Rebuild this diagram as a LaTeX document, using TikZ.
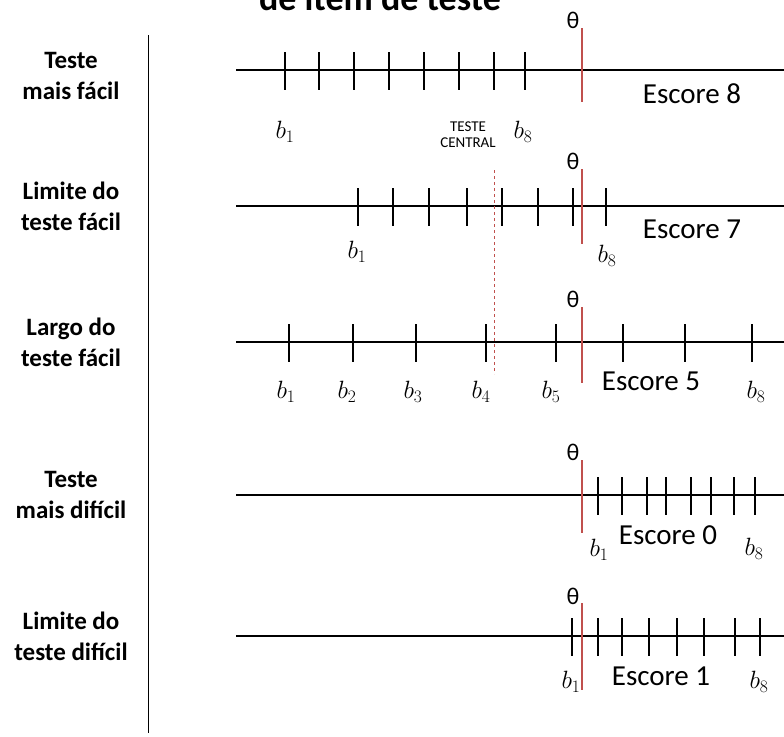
\RequirePackage{fix-cm}
\documentclass[tikz,border=0pt]{standalone}
\usepackage{fontspec}
\setmainfont{Carlito}
\definecolor{vermelho}{RGB}{192,80,77}
\begin{document}
\begin{tikzpicture}[x=1pt,y=-1pt,
  eixo/.style={line width=2.5pt},
  traco/.style={line width=1.2pt},
  limiar/.style={draw=vermelho,line width=1.5pt},
  rotulo/.style={font=\bfseries\fontsize{25}{31}\selectfont,align=center},
  escore/.style={font=\fontsize{29}{33}\selectfont},
  item/.style={font=\fontsize{25}{29}\selectfont},
  letra/.style={font=\fontsize{24}{28}\selectfont}]
\clip (0,0) rectangle (784,736);
\useasboundingbox (0,0) rectangle (784,736);
\node[font=\bfseries\fontsize{36}{40}\selectfont,anchor=base] (titulo) at (380,10) {de item de teste};
\coordinate (sepA) at (148,35);
\coordinate (sepB) at (148,733);
\draw[line width=1pt] (sepA) -- (sepB);

\node[rotulo] (r1) at (71,76) {Teste\\mais fácil};
\coordinate (e1a) at (236,70);
\coordinate (e1b) at (790,70);
\draw[eixo] (e1a) -- (e1b);
\foreach \x in {285,319,354,389,424,459,494,525} \draw[traco] (\x,52) -- (\x,90);
\node[letra] (t1) at (573,20) {θ};
\coordinate (v1a) at (582,28);
\coordinate (v1b) at (582,102);
\draw[limiar] (v1a) -- (v1b);
\node[escore] (s1) at (692,94) {Escore 8};
\node[item] (b1a) at (285,132) {$b_1$};
\node[item] (b1h) at (523,132) {$b_8$};
\node[font=\fontsize{15}{16}\selectfont,align=center] (central) at (468,135) {TESTE\\CENTRAL};

\node[rotulo] (r2) at (71,206) {Limite do\\teste fácil};
\coordinate (e2a) at (236,206);
\coordinate (e2b) at (790,206);
\draw[eixo] (e2a) -- (e2b);
\foreach \x in {358,393,429,467,502,538,573,606} \draw[traco] (\x,188) -- (\x,226);
\node[letra] (t2) at (573,161) {θ};
\coordinate (v2a) at (582,169);
\coordinate (v2b) at (582,244);
\draw[limiar] (v2a) -- (v2b);
\node[escore] (s2) at (692,229) {Escore 7};
\node[item] (b2a) at (357,252) {$b_1$};
\node[item] (b2h) at (607,256) {$b_8$};
\coordinate (d1) at (494,170);
\coordinate (d2) at (494,374);
\draw[draw=vermelho,line width=1pt,dashed] (d1) -- (d2);

\node[rotulo] (r3) at (71,342) {Largo do\\teste fácil};
\coordinate (e3a) at (236,342);
\coordinate (e3b) at (790,342);
\draw[eixo] (e3a) -- (e3b);
\foreach \x in {289,353,416,486,556,623,685,752} \draw[traco] (\x,324) -- (\x,362);
\node[letra] (t3) at (573,299) {θ};
\coordinate (v3a) at (582,307);
\coordinate (v3b) at (582,383);
\draw[limiar] (v3a) -- (v3b);
\node[escore] (s3) at (651,381) {Escore 5};
\node[item] (b3a) at (286,392) {$b_1$};
\node[item] (b3b) at (347,392) {$b_2$};
\node[item] (b3c) at (413,392) {$b_3$};
\node[item] (b3d) at (481,392) {$b_4$};
\node[item] (b3e) at (551,392) {$b_5$};
\node[item] (b3h) at (756,392) {$b_8$};

\node[rotulo] (r4) at (71,495) {Teste\\mais difícil};
\coordinate (e4a) at (236,495);
\coordinate (e4b) at (790,495);
\draw[eixo] (e4a) -- (e4b);
\foreach \x in {598,622,647,666,691,711,734,755} \draw[traco] (\x,477) -- (\x,515);
\node[letra] (t4) at (573,452) {θ};
\coordinate (v4a) at (582,460);
\coordinate (v4b) at (582,533);
\draw[limiar] (v4a) -- (v4b);
\node[escore] (s4) at (668,535) {Escore 0};
\node[item] (b4a) at (599,550) {$b_1$};
\node[item] (b4h) at (754,549) {$b_8$};

\node[rotulo] (r5) at (71,636) {Limite do\\teste difícil};
\coordinate (e5a) at (236,636);
\coordinate (e5b) at (790,636);
\draw[eixo] (e5a) -- (e5b);
\foreach \x in {572,598,622,649,677,704,735,760} \draw[traco] (\x,618) -- (\x,656);
\node[letra] (t5) at (573,596) {θ};
\coordinate (v5a) at (582,603);
\coordinate (v5b) at (582,690);
\draw[limiar] (v5a) -- (v5b);
\node[escore] (s5) at (661,676) {Escore 1};
\node[item] (b5a) at (571,682) {$b_1$};
\node[item] (b5h) at (759,682) {$b_8$};
\end{tikzpicture}
\end{document}
